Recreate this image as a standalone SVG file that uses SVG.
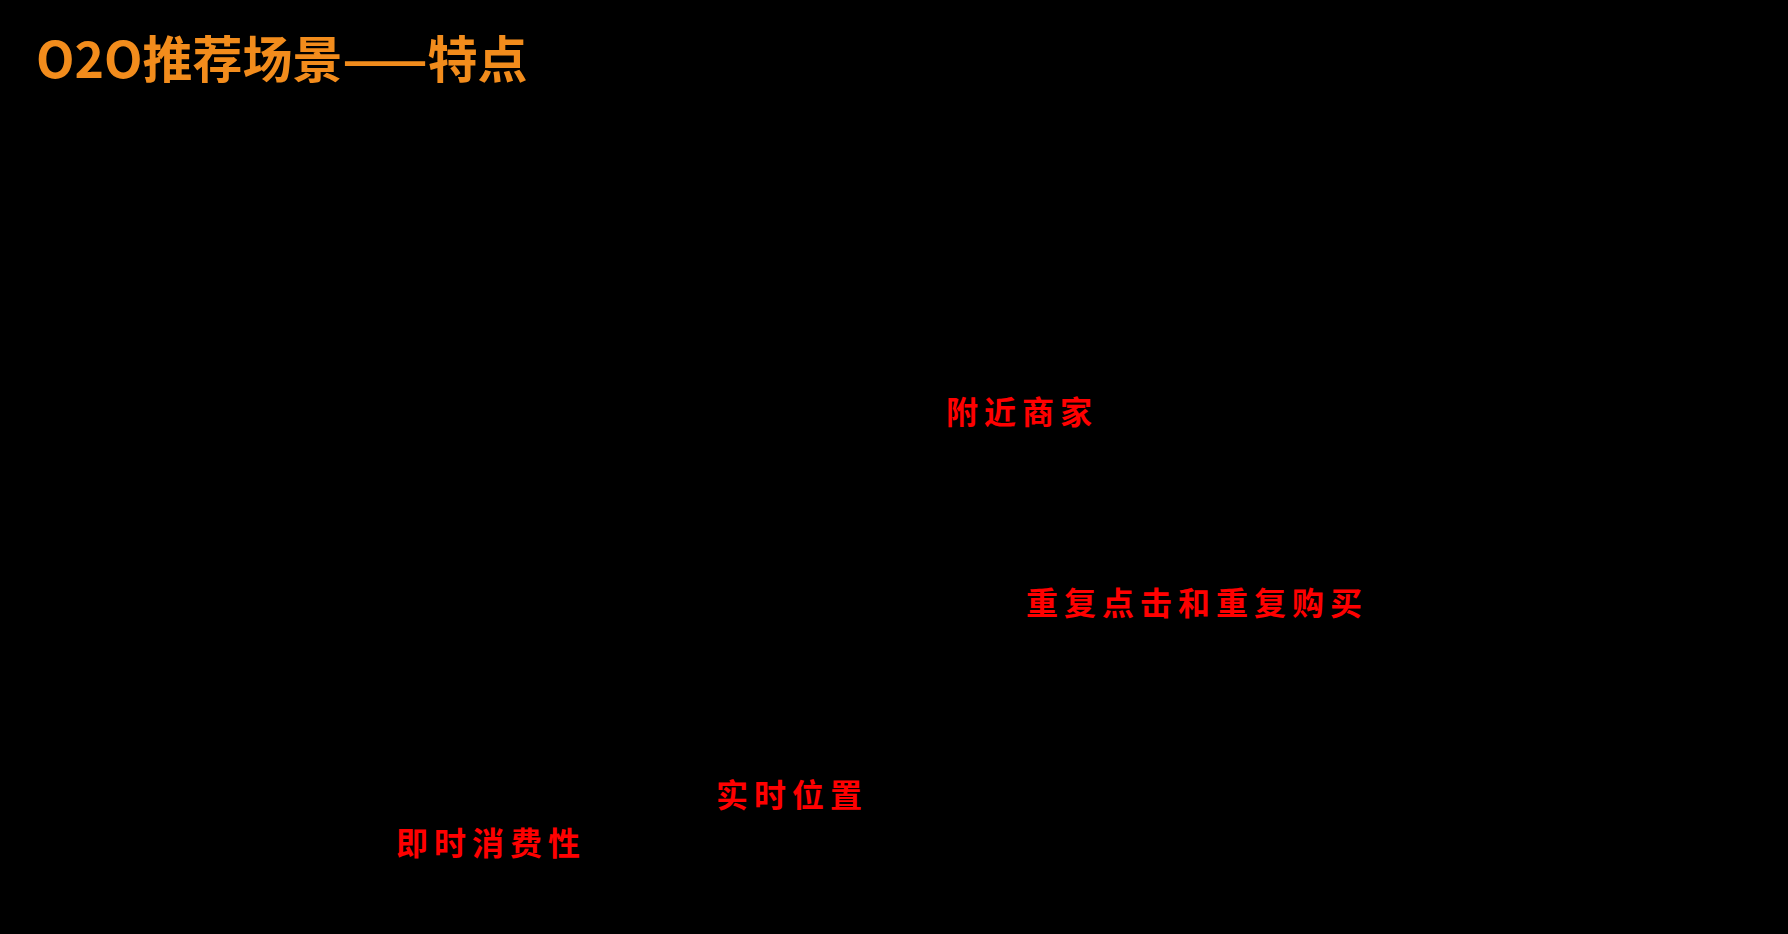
<svg xmlns="http://www.w3.org/2000/svg" width="1788" height="934" viewBox="0 0 1788 934">
<style>
.t{font-family:"Noto Sans CJK SC","Liberation Serif",serif;font-weight:bold}
.r{fill:#ff0000;font-size:32px;letter-spacing:6px}
</style>
<rect width="1788" height="934" fill="#000"/>
<g id="title"><text class="t" x="36" y="78" fill="#f28c1c" font-size="50">O2O推荐场景——特点</text></g>
<g id="n1"><text class="t r" x="946" y="424">附近商家</text></g>
<g id="n2"><text class="t r" x="1026" y="615">重复点击和重复购买</text></g>
<g id="n3"><text class="t r" x="716" y="807">实时位置</text></g>
<g id="n4"><text class="t r" x="396" y="855">即时消费性</text></g>
<g id="connectors"/>
</svg>
